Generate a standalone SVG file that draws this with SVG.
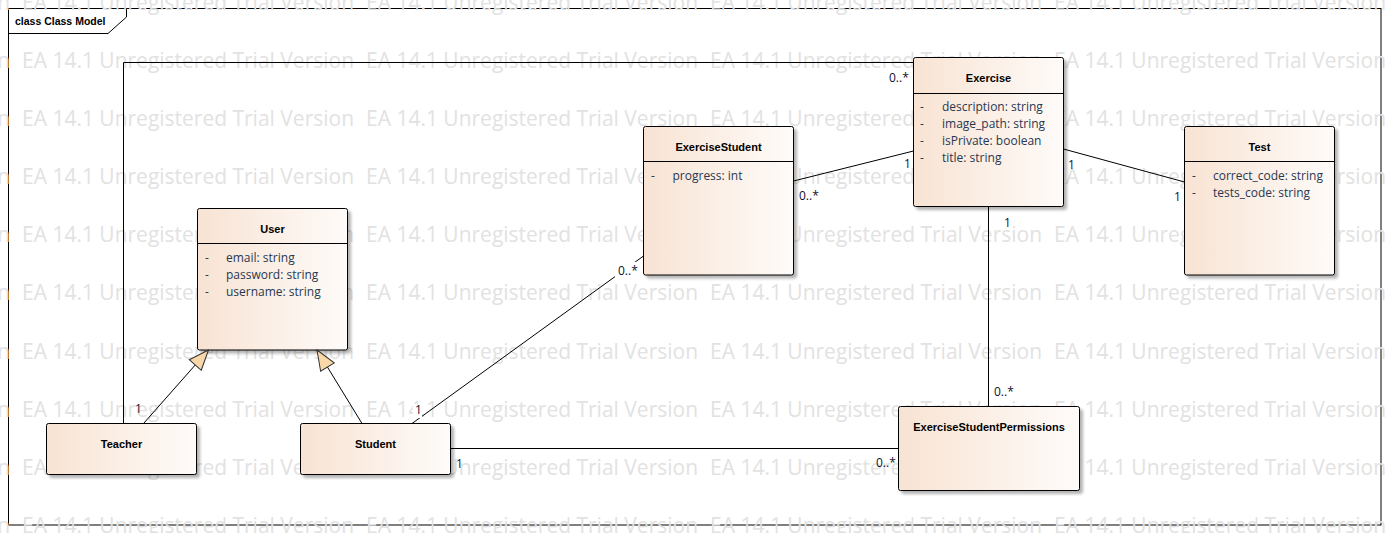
<svg xmlns="http://www.w3.org/2000/svg" width="1388" height="533" viewBox="0 0 1388 533">
<style>
.wm{font-family:"Open Sans","Noto Sans",sans-serif;font-size:21px;fill:#e2e2e2}
.nm{font-family:"Liberation Sans",Arial,sans-serif;font-weight:bold;font-size:11px;fill:#000;text-anchor:middle}
.at{font-family:"Open Sans","Noto Sans",sans-serif;font-size:12px;fill:#283850}
.lb{font-family:"Open Sans","Noto Sans",sans-serif;font-size:12px;fill:#101030}
.box{fill:url(#grad);stroke:#000;stroke-width:1;filter:url(#sh)}
.sep{stroke:#000;stroke-width:1}
.cn{fill:none;stroke:#000;stroke-width:1}
.gen{fill:none;stroke:#000;stroke-width:1;marker-end:url(#tri)}
.frame{fill:none;stroke:#000;stroke-width:1}
</style>
<defs>
<linearGradient id="grad" x1="0" y1="0" x2="1" y2="0">
<stop offset="0" stop-color="#f8e3d3"/>
<stop offset="1" stop-color="#fefbf9"/>
</linearGradient>
<filter id="sh" x="-10%" y="-10%" width="130%" height="130%">
<feGaussianBlur in="SourceAlpha" stdDeviation="1.5"/>
<feOffset dx="2.5" dy="2.5" result="b"/>
<feComponentTransfer><feFuncA type="linear" slope="0.3"/></feComponentTransfer>
<feMerge><feMergeNode/><feMergeNode in="SourceGraphic"/></feMerge>
</filter>
<marker id="tri" viewBox="-1 -1 22 18" refX="20" refY="8" markerWidth="22" markerHeight="18" markerUnits="userSpaceOnUse" orient="auto">
<path d="M0,0 L20,8 L0,16 Z" fill="#f8d7a8" stroke="#303030" stroke-width="1"/>
</marker>
</defs>
<rect width="1388" height="533" fill="#fff"/>
<g id="frame">
<rect class="frame" x="8.5" y="8.5" width="1372.5" height="516.5"/>
<path class="frame" d="M8.5,33.5 L108,33.5 L126.5,17 L126.5,8.5"/>
<text x="15" y="25" style="font-family:'Liberation Sans',Arial,sans-serif;font-weight:bold;font-size:10.5px;fill:#000">class Class Model</text>
</g>
<g id="watermark">
<text class="wm" x="-322" y="10" textLength="332" lengthAdjust="spacingAndGlyphs">EA 14.1 Unregistered Trial Version</text>
<text class="wm" x="22" y="10" textLength="332" lengthAdjust="spacingAndGlyphs">EA 14.1 Unregistered Trial Version</text>
<text class="wm" x="366" y="10" textLength="332" lengthAdjust="spacingAndGlyphs">EA 14.1 Unregistered Trial Version</text>
<text class="wm" x="710" y="10" textLength="332" lengthAdjust="spacingAndGlyphs">EA 14.1 Unregistered Trial Version</text>
<text class="wm" x="1054" y="10" textLength="332" lengthAdjust="spacingAndGlyphs">EA 14.1 Unregistered Trial Version</text>
<text class="wm" x="-322" y="68" textLength="332" lengthAdjust="spacingAndGlyphs">EA 14.1 Unregistered Trial Version</text>
<text class="wm" x="22" y="68" textLength="332" lengthAdjust="spacingAndGlyphs">EA 14.1 Unregistered Trial Version</text>
<text class="wm" x="366" y="68" textLength="332" lengthAdjust="spacingAndGlyphs">EA 14.1 Unregistered Trial Version</text>
<text class="wm" x="710" y="68" textLength="332" lengthAdjust="spacingAndGlyphs">EA 14.1 Unregistered Trial Version</text>
<text class="wm" x="1054" y="68" textLength="332" lengthAdjust="spacingAndGlyphs">EA 14.1 Unregistered Trial Version</text>
<text class="wm" x="-322" y="126" textLength="332" lengthAdjust="spacingAndGlyphs">EA 14.1 Unregistered Trial Version</text>
<text class="wm" x="22" y="126" textLength="332" lengthAdjust="spacingAndGlyphs">EA 14.1 Unregistered Trial Version</text>
<text class="wm" x="366" y="126" textLength="332" lengthAdjust="spacingAndGlyphs">EA 14.1 Unregistered Trial Version</text>
<text class="wm" x="710" y="126" textLength="332" lengthAdjust="spacingAndGlyphs">EA 14.1 Unregistered Trial Version</text>
<text class="wm" x="1054" y="126" textLength="332" lengthAdjust="spacingAndGlyphs">EA 14.1 Unregistered Trial Version</text>
<text class="wm" x="-322" y="184" textLength="332" lengthAdjust="spacingAndGlyphs">EA 14.1 Unregistered Trial Version</text>
<text class="wm" x="22" y="184" textLength="332" lengthAdjust="spacingAndGlyphs">EA 14.1 Unregistered Trial Version</text>
<text class="wm" x="366" y="184" textLength="332" lengthAdjust="spacingAndGlyphs">EA 14.1 Unregistered Trial Version</text>
<text class="wm" x="710" y="184" textLength="332" lengthAdjust="spacingAndGlyphs">EA 14.1 Unregistered Trial Version</text>
<text class="wm" x="1054" y="184" textLength="332" lengthAdjust="spacingAndGlyphs">EA 14.1 Unregistered Trial Version</text>
<text class="wm" x="-322" y="242" textLength="332" lengthAdjust="spacingAndGlyphs">EA 14.1 Unregistered Trial Version</text>
<text class="wm" x="22" y="242" textLength="332" lengthAdjust="spacingAndGlyphs">EA 14.1 Unregistered Trial Version</text>
<text class="wm" x="366" y="242" textLength="332" lengthAdjust="spacingAndGlyphs">EA 14.1 Unregistered Trial Version</text>
<text class="wm" x="710" y="242" textLength="332" lengthAdjust="spacingAndGlyphs">EA 14.1 Unregistered Trial Version</text>
<text class="wm" x="1054" y="242" textLength="332" lengthAdjust="spacingAndGlyphs">EA 14.1 Unregistered Trial Version</text>
<text class="wm" x="-322" y="300" textLength="332" lengthAdjust="spacingAndGlyphs">EA 14.1 Unregistered Trial Version</text>
<text class="wm" x="22" y="300" textLength="332" lengthAdjust="spacingAndGlyphs">EA 14.1 Unregistered Trial Version</text>
<text class="wm" x="366" y="300" textLength="332" lengthAdjust="spacingAndGlyphs">EA 14.1 Unregistered Trial Version</text>
<text class="wm" x="710" y="300" textLength="332" lengthAdjust="spacingAndGlyphs">EA 14.1 Unregistered Trial Version</text>
<text class="wm" x="1054" y="300" textLength="332" lengthAdjust="spacingAndGlyphs">EA 14.1 Unregistered Trial Version</text>
<text class="wm" x="-322" y="359" textLength="332" lengthAdjust="spacingAndGlyphs">EA 14.1 Unregistered Trial Version</text>
<text class="wm" x="22" y="359" textLength="332" lengthAdjust="spacingAndGlyphs">EA 14.1 Unregistered Trial Version</text>
<text class="wm" x="366" y="359" textLength="332" lengthAdjust="spacingAndGlyphs">EA 14.1 Unregistered Trial Version</text>
<text class="wm" x="710" y="359" textLength="332" lengthAdjust="spacingAndGlyphs">EA 14.1 Unregistered Trial Version</text>
<text class="wm" x="1054" y="359" textLength="332" lengthAdjust="spacingAndGlyphs">EA 14.1 Unregistered Trial Version</text>
<text class="wm" x="-322" y="417" textLength="332" lengthAdjust="spacingAndGlyphs">EA 14.1 Unregistered Trial Version</text>
<text class="wm" x="22" y="417" textLength="332" lengthAdjust="spacingAndGlyphs">EA 14.1 Unregistered Trial Version</text>
<text class="wm" x="366" y="417" textLength="332" lengthAdjust="spacingAndGlyphs">EA 14.1 Unregistered Trial Version</text>
<text class="wm" x="710" y="417" textLength="332" lengthAdjust="spacingAndGlyphs">EA 14.1 Unregistered Trial Version</text>
<text class="wm" x="1054" y="417" textLength="332" lengthAdjust="spacingAndGlyphs">EA 14.1 Unregistered Trial Version</text>
<text class="wm" x="-322" y="475" textLength="332" lengthAdjust="spacingAndGlyphs">EA 14.1 Unregistered Trial Version</text>
<text class="wm" x="22" y="475" textLength="332" lengthAdjust="spacingAndGlyphs">EA 14.1 Unregistered Trial Version</text>
<text class="wm" x="366" y="475" textLength="332" lengthAdjust="spacingAndGlyphs">EA 14.1 Unregistered Trial Version</text>
<text class="wm" x="710" y="475" textLength="332" lengthAdjust="spacingAndGlyphs">EA 14.1 Unregistered Trial Version</text>
<text class="wm" x="1054" y="475" textLength="332" lengthAdjust="spacingAndGlyphs">EA 14.1 Unregistered Trial Version</text>
<text class="wm" x="-322" y="533" textLength="332" lengthAdjust="spacingAndGlyphs">EA 14.1 Unregistered Trial Version</text>
<text class="wm" x="22" y="533" textLength="332" lengthAdjust="spacingAndGlyphs">EA 14.1 Unregistered Trial Version</text>
<text class="wm" x="366" y="533" textLength="332" lengthAdjust="spacingAndGlyphs">EA 14.1 Unregistered Trial Version</text>
<text class="wm" x="710" y="533" textLength="332" lengthAdjust="spacingAndGlyphs">EA 14.1 Unregistered Trial Version</text>
<text class="wm" x="1054" y="533" textLength="332" lengthAdjust="spacingAndGlyphs">EA 14.1 Unregistered Trial Version</text>
</g>
<g id="Exercise">
<rect class="box" x="913.5" y="57.5" width="150" height="149" rx="2"/>
<line class="sep" x1="913.5" y1="93.5" x2="1063.5" y2="93.5"/>
<text class="nm" x="988.5" y="82">Exercise</text>
<text class="at" x="920" y="111">-</text><text class="at" x="942" y="111">description: string</text>
<text class="at" x="920" y="128">-</text><text class="at" x="942" y="128">image_path: string</text>
<text class="at" x="920" y="145">-</text><text class="at" x="942" y="145">isPrivate: boolean</text>
<text class="at" x="920" y="162">-</text><text class="at" x="942" y="162">title: string</text>
</g>
<g id="ExerciseStudent">
<rect class="box" x="643.5" y="126.5" width="150" height="148.5" rx="2"/>
<line class="sep" x1="643.5" y1="161.5" x2="793.5" y2="161.5"/>
<text class="nm" x="718.5" y="150.5">ExerciseStudent</text>
<text class="at" x="651" y="180">-</text><text class="at" x="672.5" y="180">progress: int</text>
</g>
<g id="Test">
<rect class="box" x="1184.5" y="126.5" width="150" height="148.5" rx="2"/>
<line class="sep" x1="1184.5" y1="161.5" x2="1334.5" y2="161.5"/>
<text class="nm" x="1259.5" y="150.5">Test</text>
<text class="at" x="1192" y="180">-</text><text class="at" x="1213" y="180">correct_code: string</text>
<text class="at" x="1192" y="197">-</text><text class="at" x="1213" y="197">tests_code: string</text>
</g>
<g id="User">
<rect class="box" x="197.5" y="208.5" width="150" height="141.5" rx="2"/>
<line class="sep" x1="197.5" y1="243.5" x2="347.5" y2="243.5"/>
<text class="nm" x="272.5" y="232.5">User</text>
<text class="at" x="205" y="262">-</text><text class="at" x="226" y="262">email: string</text>
<text class="at" x="205" y="279">-</text><text class="at" x="226" y="279">password: string</text>
<text class="at" x="205" y="296">-</text><text class="at" x="226" y="296">username: string</text>
</g>
<g id="Teacher">
<rect class="box" x="46.5" y="423.5" width="150" height="51" rx="2"/>
<text class="nm" x="121.5" y="448">Teacher</text>
</g>
<g id="Student">
<rect class="box" x="300.5" y="423.5" width="150" height="51" rx="2"/>
<text class="nm" x="375.5" y="448">Student</text>
</g>
<g id="ExerciseStudentPermissions">
<rect class="box" x="898.5" y="406.5" width="181" height="84" rx="2"/>
<text class="nm" x="989" y="431">ExerciseStudentPermissions</text>
</g>
<g id="connectors">
<polyline class="cn" points="123.5,423.5 123.5,62.5 913.5,62.5"/>
<line class="cn" x1="793.5" y1="181" x2="913.5" y2="151"/>
<line class="cn" x1="1063.5" y1="149" x2="1184.5" y2="182"/>
<line class="cn" x1="988.5" y1="207" x2="988.5" y2="406.5"/>
<line class="cn" x1="450.5" y1="448.5" x2="898.5" y2="448.5"/>
<line class="cn" x1="412" y1="423.5" x2="643.5" y2="256"/>
<line class="gen" x1="143.5" y1="423.5" x2="208.5" y2="350"/>
<line class="gen" x1="362" y1="423.5" x2="317" y2="350"/>
<rect x="615" y="262" width="24" height="15" fill="#fff"/>
<rect x="413" y="404" width="9" height="14" fill="#fff"/>
<text class="lb" x="135" y="413">1</text>
<text class="lb" x="889" y="82">0..*</text>
<text class="lb" x="799" y="200">0..*</text>
<text class="lb" x="904" y="168">1</text>
<text class="lb" x="1068" y="169">1</text>
<text class="lb" x="1174" y="201">1</text>
<text class="lb" x="1004" y="227">1</text>
<text class="lb" x="994" y="396">0..*</text>
<text class="lb" x="456" y="468">1</text>
<text class="lb" x="876" y="467">0..*</text>
<text class="lb" x="415" y="414">1</text>
<text class="lb" x="618" y="275">0..*</text>
</g>
</svg>
